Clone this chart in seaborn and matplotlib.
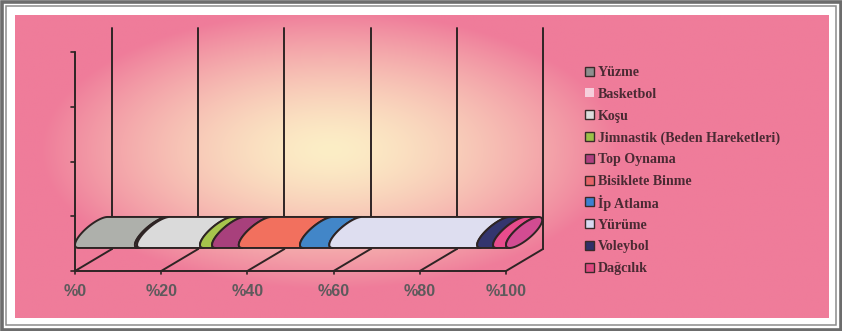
import numpy as np
import pandas as pd
import matplotlib
matplotlib.use("Agg")
import matplotlib.pyplot as plt
import seaborn as sns
from matplotlib.patches import Polygon, Rectangle

# --- data (share of each activity, %) ---
activities = ["Yüzme", "Basketbol", "Koşu", "Jimnastik (Beden Hareketleri)", "Top Oynama",
              "Bisiklete Binme", "İp Atlama", "Yürüme", "Voleybol", "Dağcılık"]
shares = [13.9, 0.5, 14.6, 2.8, 6.2, 14.2, 6.8, 34.3, 3.7, 3.0]
bar_colors = ["#aeb0ab", "#f3c6d4", "#dadada", "#a6c44c", "#a8407c",
              "#f2705e", "#4286c8", "#dedef0", "#34356e", "#e84c8c"]
legend_colors = ["#8e8e8e", "#f6cfdc", "#dcdcdc", "#9cc048", "#b04080",
                 "#e86468", "#3c80d0", "#d8d8f0", "#303068", "#e04880"]
cap_color = "#d24c92"
tick_values = [0, 20, 40, 60, 80, 100]
tick_labels = ["%0", "%20", "%40", "%60", "%80", "%100"]

sns.set_theme(style="white")

W, H = 842, 331
PX = 4.31            # pixels per percent unit
X0, Y0 = 75, 271     # pixel position of front %0 corner
DX, DY = 37 / PX, 22 / PX   # depth offset in data units
WALL_TOP = 243 / PX
LINE = "#2e2424"

fig = plt.figure(figsize=(W / 100, H / 100), dpi=100)

# background: frame + pink/cream glow
bg = fig.add_axes([0, 0, 1, 1])
bg.set_xlim(0, W)
bg.set_ylim(H, 0)
bg.axis("off")
bg.add_patch(Rectangle((1.5, 1.5), W - 3, H - 3, fill=False, ec="#6c6c6c", lw=2.6))
bg.add_patch(Rectangle((6, 6), W - 12, H - 12, fill=False, ec="#8c8c8c", lw=1.1))
gx, gy = np.meshgrid(np.linspace(15, 829, 400), np.linspace(15, 318, 160))
d = np.sqrt(((gx - 330) / 290) ** 2 + ((gy - 150) / 140) ** 2)
t = np.clip(d, 0, 1) ** 1.5
pink = np.array([239, 124, 154]) / 255
cream = np.array([252, 238, 198]) / 255
img = cream[None, None, :] * (1 - t[..., None]) + pink[None, None, :] * t[..., None]
bg.imshow(img, extent=(15, 829, 318, 15), aspect="auto", interpolation="bilinear")

# chart axes in percent units, front baseline at y = 0
ax = fig.add_axes([0, 0, 1, 1])
ax.patch.set_alpha(0)
ax.set_xlim(-X0 / PX, (W - X0) / PX)
ax.set_ylim(-(H - Y0) / PX, Y0 / PX)
ax.axis("off")

# back wall gridlines
grid_df = pd.DataFrame({
    "x": [v + DX for v in tick_values for _ in range(2)],
    "y": [DY, WALL_TOP] * len(tick_values),
    "tick": [v for v in tick_values for _ in range(2)],
})
sns.lineplot(data=grid_df, x="x", y="y", units="tick", estimator=None, sort=False,
             color=LINE, lw=1.4, ax=ax, legend=False)

# floor: front edge + depth lines
ax.plot([0, 100], [0, 0], color=LINE, lw=1.4)
floor_df = pd.DataFrame({
    "x": [p for v in tick_values for p in (v, v + DX)],
    "y": [DY * k for _ in tick_values for k in (0, 1)],
    "tick": [v for v in tick_values for _ in range(2)],
})
sns.lineplot(data=floor_df, x="x", y="y", units="tick", estimator=None, sort=False,
             color=LINE, lw=1.4, ax=ax, legend=False)
for v in tick_values:
    ax.plot([v, v], [0, -0.6], color=LINE, lw=1.2)

# left vertical axis
side_ticks = np.linspace(0, 50.8, 5)
ax.plot([0, 0], [0, side_ticks[-1]], color=LINE, lw=1.4)
for yv in side_ticks:
    ax.plot([-0.9, 0], [yv, yv], color=LINE, lw=1.2)

# cylinder: tilted ellipse cross-section (oblique projection)
CY = 8.94                 # centre height of cylinder
A, BD, RH = 4.2, 2.87, 2.17
OFF = A                   # leftmost point of each cap sits on the value
th_top = np.arctan2(RH, BD)
th = np.linspace(th_top, th_top + np.pi, 60)   # visible (left) half, top -> bottom


def left_half(v):
    cx = v + OFF
    return np.column_stack([cx + A * np.cos(th), CY + BD * np.cos(th) + RH * np.sin(th)])


edges = np.concatenate([[0], np.cumsum(shares)])
for a, b, c in zip(edges[:-1], edges[1:], bar_colors):
    pts = np.vstack([left_half(a), left_half(b)[::-1]])
    ax.add_patch(Polygon(pts, closed=True, fc=c, ec=LINE, lw=1.4, joinstyle="round", zorder=3))

# right end cap (full ellipse)
th_full = np.linspace(0, 2 * np.pi, 120)
cx = edges[-1] + OFF
cap = np.column_stack([cx + A * np.cos(th_full), CY + BD * np.cos(th_full) + RH * np.sin(th_full)])
ax.add_patch(Polygon(cap, closed=True, fc=cap_color, ec=LINE, lw=1.4, zorder=3))

# tick labels
for v, lab in zip(tick_values, tick_labels):
    ax.text(v, -4.65, lab, ha="center", va="center", fontsize=11.6, fontweight="bold",
            color="#5e5a5c", family="Liberation Sans")

# legend, one evenly spaced row per activity
for i, (lab, c) in enumerate(zip(activities, legend_colors)):
    yc = 71 + 21.8 * i
    bg.add_patch(Rectangle((585, yc - 4.5), 9, 9, fc=c,
                           ec=("none" if lab == "Basketbol" else "#3a2a2a"), lw=1.0))
    bg.text(598, yc, lab, ha="left", va="center_baseline", fontsize=10.1, fontweight="bold",
            family="Liberation Serif", color="#4a2a33")

fig.savefig("out.png", dpi=100)
